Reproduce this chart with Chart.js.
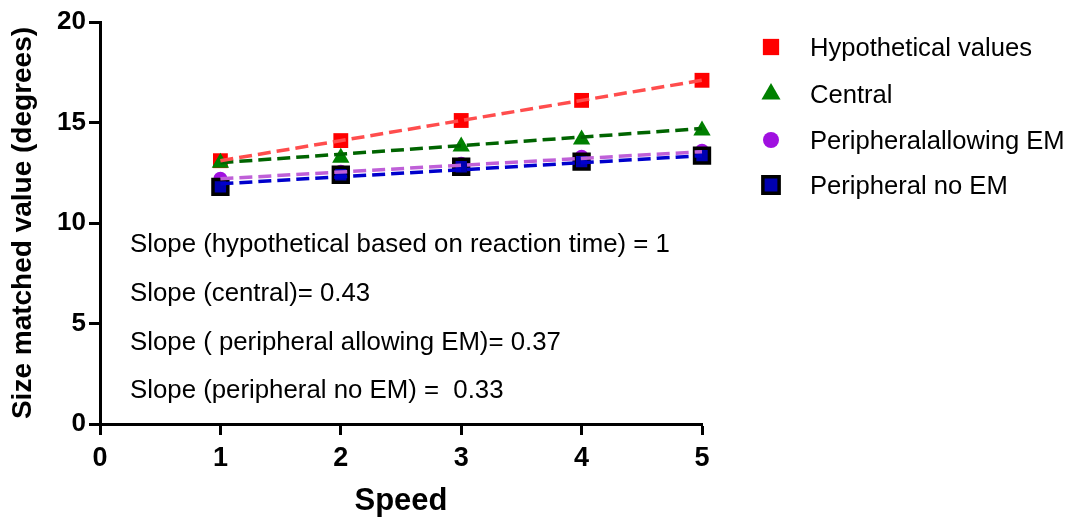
<!DOCTYPE html>
<html>
<head>
<meta charset="utf-8">
<script src="https://cdn.jsdelivr.net/npm/chart.js@4.4.1/dist/chart.umd.min.js"></script>
<style>
body{margin:0;background:#fff;}
#wrap{width:1068px;height:517px;}
</style>
</head>
<body>
<div id="wrap"><canvas id="chart" width="1068" height="517"></canvas></div>
<script>
/* Data */
const speeds=[1,2,3,4,5];
const hypothetical=[13.1,14.1,15.1,16.1,17.1];
const central=[13.0,13.25,13.8,14.15,14.6];
const peripheralEM=[12.2,12.55,12.95,13.3,13.6];
const peripheralNoEM=[11.8,12.4,12.8,13.05,13.35];

/* Fitted lines (ends at speed 1 and 5) */
const fitX=[1,5];
const fitHypothetical=[13.1,17.1];
const fitCentral=[13.0,14.7];
const fitPeripheralEM=[12.2,13.55];
const fitPeripheralNoEM=[11.95,13.35];

const seriesNames=["Hypothetical values","Central","Peripheralallowing EM","Peripheral no EM"];
const slopeNotes=[
"Slope (hypothetical based on reaction time) = 1",
"Slope (central)= 0.43",
"Slope ( peripheral allowing EM)= 0.37",
"Slope (peripheral no EM) =  0.33"
];

const xTicks=[0,1,2,3,4,5];
const yTicks=[0,5,10,15,20];

const FONT="'Liberation Sans', Arial, sans-serif";
Chart.defaults.font.family=FONT;
Chart.defaults.color="#000";

function pts(xs,ys){
return xs.map((x,i)=>({x:x,y:ys[i]}));
}

/* Marker styles, shared by plot and legend */
const markers=[
{pointStyle:"rect",radius:10.5,fill:"#ff0000",stroke:"#ff0000",border:0},
{pointStyle:"triangle",radius:10,fill:"#008000",stroke:"#008000",border:0},
{pointStyle:"circle",radius:7,fill:"#a010e0",stroke:"#a010e0",border:0},
{pointStyle:"rect",radius:10.5,fill:"#0000b0",stroke:"#000000",border:3.5}
];

const lineColors=["#ff4d4d","#006400","#bf60d8","#0000cc"];

const markerData=[hypothetical,central,peripheralEM,peripheralNoEM];
const fitData=[fitHypothetical,fitCentral,fitPeripheralEM,fitPeripheralNoEM];

let datasets=[];

/* dashed fit lines on top */
fitData.forEach((d,i)=>{
datasets.push({
label:seriesNames[i]+" fit",
data:pts(fitX,d),
showLine:true,
borderColor:lineColors[i],
borderWidth:3.5,
borderDash:[13,6],
pointRadius:0,
fill:false,
clip:false,
order:0
});
});

/* markers, later series drawn over earlier ones */
markerData.forEach((d,i)=>{
const m=markers[i];
datasets.push({
label:seriesNames[i],
data:pts(speeds,d),
showLine:false,
pointStyle:m.pointStyle,
pointRadius:m.radius,
pointBackgroundColor:m.fill,
pointBorderColor:m.stroke,
pointBorderWidth:m.border,
clip:false,
order:4-i
});
});

/* Slope notes + legend */
const notesPlugin={
id:"notes",
afterDraw(chart){
const ctx=chart.ctx;
ctx.save();
ctx.fillStyle="#000";
ctx.textAlign="left";
ctx.textBaseline="middle";
ctx.font="25.8px "+FONT;
const noteY=[245,294,343,391];
slopeNotes.forEach((t,i)=>ctx.fillText(t,130,noteY[i]));

const rowY=[47,94,140,185];
ctx.font="25.6px "+FONT;
seriesNames.forEach((name,i)=>{
const m=markers[i];
ctx.fillStyle=m.fill;
ctx.strokeStyle=m.stroke;
ctx.lineWidth=m.border;
Chart.helpers.drawPoint(ctx,{pointStyle:m.pointStyle,radius:m.radius+1,rotation:0,borderWidth:m.border},771,rowY[i]);
ctx.fillStyle="#000";
ctx.fillText(name,810,rowY[i]+2);
});
ctx.restore();
}
};

new Chart(document.getElementById("chart"),{
type:"scatter",
data:{datasets:datasets},
options:{
responsive:false,
animation:false,
devicePixelRatio:1,
layout:{padding:{left:0,right:366,top:22,bottom:0}},
plugins:{
legend:{display:false},
tooltip:{enabled:false}
},
scales:{
x:{
type:"linear",
min:0,
max:5,
afterBuildTicks:s=>{s.ticks=xTicks.map(v=>({value:v}));},
afterFit:s=>{s.height=93;},
ticks:{font:{size:27,weight:"bold"},color:"#000",padding:7},
grid:{display:true,drawOnChartArea:false,drawTicks:true,tickLength:11,tickWidth:3,color:"#000"},
border:{display:true,width:3,color:"#000"},
title:{display:true,text:"Speed",font:{size:31,weight:"bold"},color:"#000",padding:{top:0,bottom:-3}}
},
y:{
type:"linear",
min:0,
max:20,
afterBuildTicks:s=>{s.ticks=yTicks.map(v=>({value:v}));},
afterFit:s=>{s.width=100;},
ticks:{font:{size:26,weight:"bold"},color:"#000",padding:3},
grid:{display:true,drawOnChartArea:false,drawTicks:true,tickLength:11,tickWidth:3,color:"#000"},
border:{display:true,width:3,color:"#000"},
title:{display:true,text:"Size matched value (degrees)",font:{size:28,weight:"bold"},color:"#000",padding:{top:6,bottom:0}}
}
}
},
plugins:[notesPlugin]
});
</script>
</body>
</html>
